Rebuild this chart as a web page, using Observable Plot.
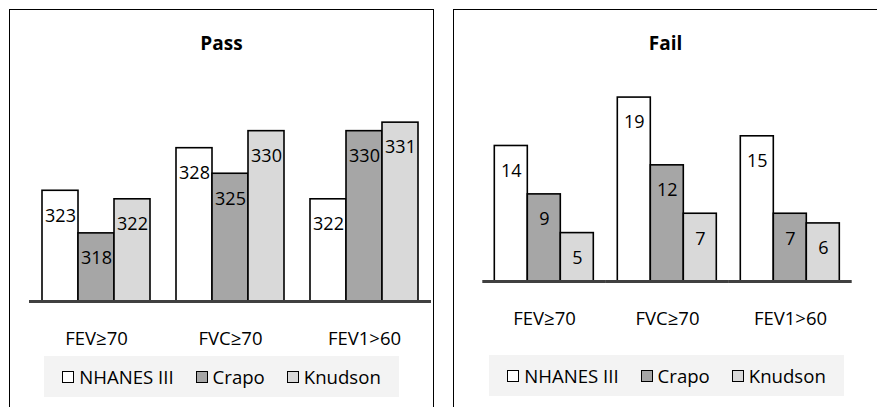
<!DOCTYPE html>
<html><head><meta charset="utf-8">
<script src="https://cdn.jsdelivr.net/npm/d3@7"></script>
<script src="https://cdn.jsdelivr.net/npm/@observablehq/plot@0.6"></script>
<style>
html,body{margin:0;padding:0;background:#fff;}
body{width:877px;height:407px;overflow:hidden;position:relative;font-family:"Open Sans",sans-serif;color:#000;}
.panel{position:absolute;top:9px;height:420px;border:1.5px solid #000;box-sizing:border-box;}
.chart{position:absolute;top:10px;}
.title{position:absolute;top:31px;width:423px;text-align:center;font-weight:bold;font-size:19px;line-height:24px;}
.legend{position:absolute;width:355px;height:41px;background:#f3f3f3;display:flex;align-items:center;justify-content:center;gap:22px;font-size:18.6px;}
.item{display:flex;align-items:center;gap:5px;}
.sw{width:12px;height:12px;border:1.5px solid #000;box-sizing:border-box;}
</style>
</head><body>
<div class="panel" style="left:9px;width:425px"></div>
<div class="panel" style="left:453px;width:426px"></div>
<div id="passChart" class="chart" style="left:10px"></div>
<div id="failChart" class="chart" style="left:454px"></div>
<div class="title" style="left:10px">Pass</div>
<div class="title" style="left:454px">Fail</div>
<div id="passLegend" class="legend" style="left:44px;top:356px"></div>
<div id="failLegend" class="legend" style="left:489px;top:355px"></div>
<script>
const categories = ["FEV≥70", "FVC≥70", "FEV1>60"];
const series = ["NHANES III", "Crapo", "Knudson"];
const passNhanes = [323, 328, 322];
const passCrapo = [318, 325, 330];
const passKnudson = [322, 330, 331];
const failNhanes = [14, 19, 15];
const failCrapo = [9, 12, 7];
const failKnudson = [5, 7, 6];
const passAxis = [310, 340];
const failAxis = [0, 20];
const seriesColors = ["#ffffff", "#a6a6a6", "#d9d9d9"];

function toRows(lists) {
  const rows = [];
  categories.forEach((cat, i) => {
    series.forEach((s, j) => rows.push({cat, series: s, value: lists[j][i]}));
  });
  return rows;
}

function panel(rows, domain, opts) {
  return Plot.plot({
    width: 423, height: 340,
    marginLeft: opts.ml, marginRight: opts.mr, marginTop: opts.mt, marginBottom: opts.mb,
    style: {fontFamily: "Open Sans", fontSize: "18.5px", color: "#000", background: "transparent", overflow: "visible"},
    fx: {domain: categories, paddingInner: opts.pi, paddingOuter: 0, label: null, tickSize: 0, tickPadding: 30, axis: "bottom"},
    x: {domain: series, padding: 0, axis: null},
    y: {domain, axis: null},
    color: {domain: series, range: seriesColors},
    marks: [
      Plot.barY(rows, {fx: "cat", x: "series", y1: domain[0], y2: "value", fill: "series", stroke: "#000", strokeWidth: 1.6}),
      Plot.text(rows, {fx: "cat", x: "series", y: "value", text: d => String(d.value), dy: 25, fontSize: 18, fill: "#000"}),
      Plot.ruleY([domain[0]], {stroke: "#404040", strokeWidth: 3, insetLeft: -opts.inset, insetRight: -opts.inset})
    ]
  });
}

document.getElementById("passChart").appendChild(
  panel(toRows([passNhanes, passCrapo, passKnudson]), passAxis, {ml: 30, mr: 13, mt: 35.5, mb: 49, pi: 0.18, inset: 12}));
document.getElementById("failChart").appendChild(
  panel(toRows([failNhanes, failCrapo, failKnudson]), failAxis, {ml: 37.7, mr: 36, mt: 77.4, mb: 69, pi: 0.174, inset: 10.7}));

function legend(id) {
  const el = document.getElementById(id);
  series.forEach((s, i) => {
    const item = document.createElement("div");
    item.className = "item";
    const sw = document.createElement("div");
    sw.className = "sw";
    sw.style.background = seriesColors[i];
    const t = document.createElement("span");
    t.textContent = s;
    item.appendChild(sw); item.appendChild(t);
    el.appendChild(item);
  });
}
legend("passLegend");
legend("failLegend");
</script>
</body></html>
